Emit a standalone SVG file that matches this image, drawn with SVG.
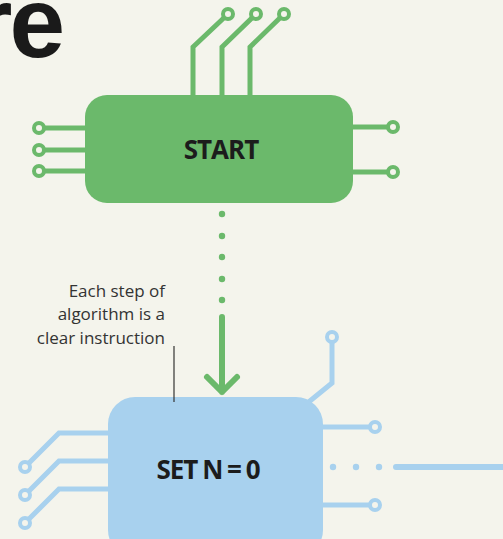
<svg xmlns="http://www.w3.org/2000/svg" width="503" height="539" viewBox="0 0 503 539">
<style>
.g{stroke:#6bb96b;}
.b{stroke:#a8d1ee;}
.wire{fill:none;stroke-width:5;stroke-linejoin:miter;}
.ring{fill:#f4f4ec;stroke-width:4;}
.lbl{font-family:"Open Sans","Noto Sans",sans-serif;font-weight:700;font-size:26px;fill:#1c1c1c;letter-spacing:-1px;text-anchor:middle;}
.note{font-family:"Open Sans","Noto Sans",sans-serif;font-size:17px;fill:#333;text-anchor:end;}
</style>
<rect width="503" height="539" fill="#f4f4ec"/>
<text x="62" y="57" font-family="Liberation Sans,Arial,sans-serif" font-weight="700" font-size="100" fill="#1a1a1a" text-anchor="end" letter-spacing="-3">re</text>

<g id="start">
<g class="g">
<polyline class="wire" points="193,97 193,47 228,14"/>
<polyline class="wire" points="222,97 222,47 256,14"/>
<polyline class="wire" points="250,97 250,47 284,14"/>
<line class="wire" x1="39" y1="128" x2="88" y2="128"/>
<line class="wire" x1="39" y1="150" x2="88" y2="150"/>
<line class="wire" x1="39" y1="171" x2="88" y2="171"/>
<line class="wire" x1="350" y1="127" x2="393" y2="127"/>
<line class="wire" x1="350" y1="172" x2="393" y2="172"/>
<circle class="ring" cx="228" cy="14" r="5"/>
<circle class="ring" cx="256" cy="14" r="5"/>
<circle class="ring" cx="284" cy="14" r="5"/>
<circle class="ring" cx="39" cy="128" r="5"/>
<circle class="ring" cx="39" cy="150" r="5"/>
<circle class="ring" cx="39" cy="171" r="5"/>
<circle class="ring" cx="393" cy="127" r="5"/>
<circle class="ring" cx="393" cy="172" r="5"/>
</g>
<rect x="85" y="95" width="268" height="108" rx="22" fill="#6bb96b"/>
<text class="lbl" x="221" y="159">START</text>
</g>

<g id="set">
<g class="b">
<polyline class="wire" points="111,433 59,433 25,467"/>
<polyline class="wire" points="111,461 59,461 25,495"/>
<polyline class="wire" points="111,489 59,489 25,523"/>
<polyline class="wire" points="305,405 332,383 332,337"/>
<line class="wire" x1="320" y1="427" x2="375" y2="427"/>
<line class="wire" x1="320" y1="505" x2="375" y2="505"/>
<circle class="ring" cx="25" cy="467" r="5"/>
<circle class="ring" cx="25" cy="495" r="5"/>
<circle class="ring" cx="25" cy="523" r="5"/>
<circle class="ring" cx="332" cy="337" r="5"/>
<circle class="ring" cx="375" cy="427" r="5"/>
<circle class="ring" cx="375" cy="505" r="5"/>
</g>
<rect x="108" y="397" width="215" height="160" rx="27" fill="#a8d1ee"/>
<text class="lbl" x="208" y="479" word-spacing="-1">SET N = 0</text>
</g>

<g id="connectors">
<g fill="#6bb96b">
<circle cx="222" cy="214" r="3.2"/>
<circle cx="222" cy="236" r="3.2"/>
<circle cx="222" cy="257" r="3.2"/>
<circle cx="222" cy="279" r="3.2"/>
<circle cx="222" cy="300" r="3.2"/>
</g>
<path d="M222,317 V392 M207,377 L222,392 L237,377" fill="none" stroke="#6bb96b" stroke-width="6" stroke-linecap="round" stroke-linejoin="round"/>
<g fill="#a8d1ee">
<circle cx="333" cy="467" r="3.2"/>
<circle cx="356" cy="467" r="3.2"/>
<circle cx="379" cy="467" r="3.2"/>
</g>
<line x1="396" y1="467" x2="510" y2="467" stroke="#a8d1ee" stroke-width="6" stroke-linecap="round"/>
</g>

<g id="callout">
<text class="note" x="165" y="296.5">Each step of</text>
<text class="note" x="165" y="320">algorithm is a</text>
<text class="note" x="165" y="344">clear instruction</text>
<line x1="174" y1="346" x2="174" y2="402" stroke="#333" stroke-width="1.2"/>
</g>
</svg>
